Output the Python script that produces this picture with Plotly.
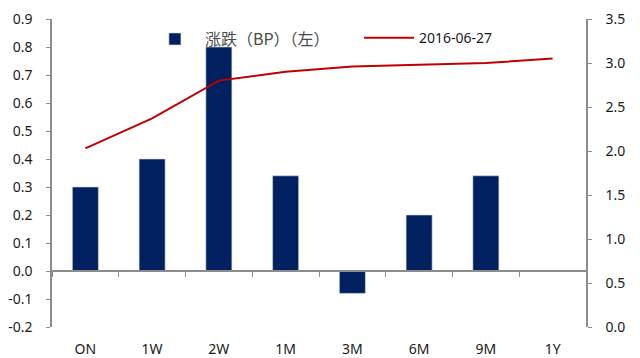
import plotly.graph_objects as go

# Tenors and values
tenors = ["ON", "1W", "2W", "1M", "3M", "6M", "9M", "1Y"]
change_bp = [0.30, 0.40, 0.80, 0.34, -0.08, 0.20, 0.34, 0.0]
rate_20160627 = [2.03, 2.37, 2.80, 2.90, 2.96, 2.98, 3.00, 3.05]

left_ticks = [-0.2, -0.1, 0.0, 0.1, 0.2, 0.3, 0.4, 0.5, 0.6, 0.7, 0.8, 0.9]
right_ticks = [0.0, 0.5, 1.0, 1.5, 2.0, 2.5, 3.0, 3.5]

FONT = "Noto Sans, Noto Sans CJK SC, sans-serif"
CJK_FONT = "Noto Sans CJK SC, Noto Sans, sans-serif"
AXIS_GREY = "#8c8c8c"

fig = go.Figure()

fig.add_trace(go.Bar(
    x=tenors, y=change_bp, name="涨跌（BP）（左）",
    marker=dict(color="#002060", line=dict(color="#d0d8e8", width=0.6)),
    xaxis="x", yaxis="y", legend="legend",
))

fig.add_trace(go.Scatter(
    x=tenors, y=rate_20160627, name="2016-06-27", mode="lines",
    line=dict(color="#c00000", width=2),
    xaxis="x2", yaxis="y2", legend="legend2",
))

fig.update_layout(
    width=640, height=358,
    margin=dict(l=52, r=54, t=19, b=31, autoexpand=False),
    paper_bgcolor="white", plot_bgcolor="white",
    font=dict(family=FONT, size=14, color="#1a1a1a"),
    bargap=0.61,
    showlegend=True,
    legend=dict(
        orientation="h", x=0.174, y=0.99, xanchor="left", yanchor="top",
        itemwidth=50, font=dict(family=CJK_FONT, size=16, color="#4a4a4a"),
        bgcolor="rgba(0,0,0,0)",
    ),
    legend2=dict(
        orientation="h", x=0.575, y=0.99, xanchor="left", yanchor="top",
        itemwidth=50, font=dict(size=14, color="#1a1a1a"),
        bgcolor="rgba(0,0,0,0)",
    ),
    xaxis=dict(
        type="category", categoryorder="array", categoryarray=tenors,
        range=[-0.5, 7.5], showline=False, showgrid=False, zeroline=False,
        ticks="", ticklabelstandoff=12, tickfont=dict(size=14),
        automargin=False,
    ),
    xaxis2=dict(
        type="category", categoryorder="array", categoryarray=tenors,
        range=[-0.5, 7.5], overlaying="x", anchor="free",
        position=0.2 / 1.1,
        showline=True, linecolor=AXIS_GREY, linewidth=1.5,
        ticks="outside", tickson="boundaries", ticklen=5, tickcolor=AXIS_GREY,
        showticklabels=False, showgrid=False, zeroline=False,
        automargin=False,
    ),
    yaxis=dict(
        range=[-0.2, 0.9], tickvals=left_ticks,
        ticktext=[f"{v:.1f}" for v in left_ticks],
        showline=True, linecolor=AXIS_GREY, linewidth=1.5,
        ticks="outside", ticklen=4, tickcolor=AXIS_GREY,
        showgrid=False, zeroline=False, ticklabelstandoff=11,
        automargin=False,
    ),
    yaxis2=dict(
        range=[0.0, 3.5], tickvals=right_ticks,
        ticktext=[f"{v:.1f}" for v in right_ticks],
        overlaying="y", side="right", anchor="x",
        showline=True, linecolor=AXIS_GREY, linewidth=1.5,
        ticks="outside", ticklen=4, tickcolor=AXIS_GREY,
        showgrid=False, zeroline=False, ticklabelstandoff=11,
        automargin=False,
    ),
)

fig.write_html("out.html")
